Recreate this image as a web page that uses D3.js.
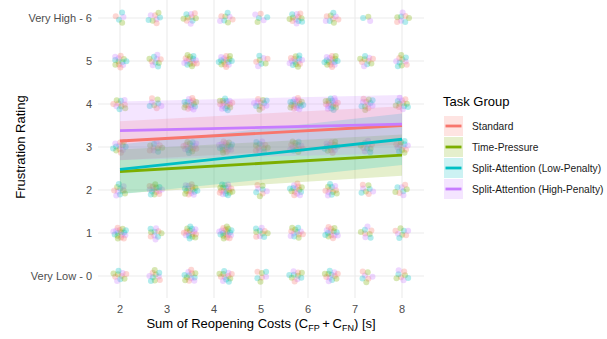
<!DOCTYPE html>
<html>
<head>
<meta charset="utf-8">
<script src="https://cdn.jsdelivr.net/npm/d3@7"></script>
<style>
  html, body { margin: 0; padding: 0; background: #fff; }
  svg { display: block; font-family: "Liberation Sans", Arial, sans-serif; }
</style>
</head>
<body>
<svg id="chart" width="607" height="339"></svg>
<script>
// ---- data ----
const groups = ["Standard", "Time-Pressure", "Split-Attention (Low-Penalty)", "Split-Attention (High-Penalty)"];
const groupColors = ["#F8766D", "#7CAE00", "#00BFC4", "#C77CFF"];

// reopening-cost levels (x) and rating levels (y)
const costLevels = [2, 2.75, 3.5, 4.25, 5, 5.75, 6.5, 7.25, 8];
const ratingLevels = [0, 1, 2, 3, 4, 5, 6];
const ratingLabels = ["Very Low - 0", "1", "2", "3", "4", "5", "Very High - 6"];
const xTicks = [2, 3, 4, 5, 6, 7, 8];

// number of responses per rating (rows) and cost level (columns)
const counts0 = [10, 10, 12, 12, 7, 10, 12, 7, 8];
const counts1 = [16, 10, 16, 18, 10, 12, 14, 8, 8];
const counts2 = [10, 14, 16, 18, 8, 14, 12, 8, 8];
const counts3 = [12, 10, 16, 18, 12, 14, 14, 10, 12];
const counts4 = [10, 8, 16, 16, 12, 18, 18, 12, 12];
const counts5 = [12, 10, 15, 15, 8, 14, 16, 10, 10];
const counts6 = [5, 8, 10, 8, 6, 12, 9, 3, 8];
const countRows = [counts0, counts1, counts2, counts3, counts4, counts5, counts6];

// fitted lines with confidence band, at cost = 2 and cost = 8
const fitStart  = [3.14, 2.43, 2.48, 3.38];
const fitEnd    = [3.50, 2.81, 3.18, 3.53];
const lowStart  = [2.69, 1.92, 1.90, 2.70];
const lowEnd    = [3.05, 2.33, 2.58, 2.85];
const highStart = [3.60, 2.94, 3.06, 4.06];
const highEnd   = [3.95, 3.29, 3.78, 4.21];

// ---- layout ----
const svg = d3.select("#chart");
const panel = { left: 98, right: 424, top: -12, bottom: 298 };

const x = d3.scaleLinear().domain([2, 8]).range([120, 402]);
const y = d3.scaleLinear().domain([0, 6]).range([276, 18]);

// grid
const grid = svg.append("g");
grid.selectAll("line.h").data(ratingLevels).join("line")
  .attr("x1", panel.left).attr("x2", panel.right)
  .attr("y1", d => y(d)).attr("y2", d => y(d))
  .attr("stroke", "#EBEBEB").attr("stroke-width", 1.1);
grid.selectAll("line.v").data(xTicks).join("line")
  .attr("y1", panel.top).attr("y2", panel.bottom)
  .attr("x1", d => x(d)).attr("x2", d => x(d))
  .attr("stroke", "#EBEBEB").attr("stroke-width", 1.1);

// jittered response points (deterministic spread around each cell)
const points = [];
const golden = Math.PI * (3 - Math.sqrt(5));
countRows.forEach((row, ri) => {
  row.forEach((n, ci) => {
    for (let i = 0; i < n; i++) {
      const r = 0.55 * Math.sqrt(i + 0.5) / Math.sqrt(Math.max(n, 6));
      const a = i * golden + ci * 1.3 + ri * 0.7;
      points.push({
        cost: costLevels[ci],
        rating: ratingLevels[ri],
        dx: Math.cos(a) * r * 0.28,
        dy: Math.sin(a) * r * 0.28,
        g: (i + ci + ri) % 4
      });
    }
  });
});

svg.append("g").selectAll("circle").data(points).join("circle")
  .attr("cx", d => x(d.cost + d.dx))
  .attr("cy", d => y(d.rating + d.dy))
  .attr("r", 3)
  .attr("fill", d => groupColors[d.g])
  .attr("fill-opacity", 0.3);

// fitted lines and bands
const fits = groups.map((g, i) => ({
  i,
  band: [
    { c: 2, lo: lowStart[i], hi: highStart[i] },
    { c: 8, lo: lowEnd[i], hi: highEnd[i] }
  ],
  line: [{ c: 2, v: fitStart[i] }, { c: 8, v: fitEnd[i] }]
}));

const area = d3.area().x(d => x(d.c)).y0(d => y(d.lo)).y1(d => y(d.hi));
const line = d3.line().x(d => x(d.c)).y(d => y(d.v));

const bandG = svg.append("g");
const lineG = svg.append("g");
fits.forEach(f => {
  bandG.append("path").attr("d", area(f.band))
    .attr("fill", groupColors[f.i]).attr("fill-opacity", 0.2);
  lineG.append("path").attr("d", line(f.line))
    .attr("stroke", groupColors[f.i]).attr("stroke-width", 2.8)
    .attr("fill", "none");
});

// axes labels
svg.append("g").selectAll("text").data(ratingLevels).join("text")
  .attr("x", 92).attr("y", d => y(d))
  .attr("dy", "0.36em").attr("text-anchor", "end")
  .attr("font-size", 11).attr("fill", "#4D4D4D")
  .text((d, i) => ratingLabels[i]);

svg.append("g").selectAll("text").data(xTicks).join("text")
  .attr("x", d => x(d)).attr("y", 313)
  .attr("text-anchor", "middle")
  .attr("font-size", 11).attr("fill", "#4D4D4D")
  .text(d => d);

const xt = svg.append("text")
  .attr("x", 261).attr("y", 328)
  .attr("text-anchor", "middle").attr("font-size", 13).attr("fill", "#000");
xt.append("tspan").text("Sum of Reopening Costs (C");
xt.append("tspan").attr("font-size", 9).attr("dy", 3).text("FP");
xt.append("tspan").attr("dy", -3).text("\u2009+\u2009C");
xt.append("tspan").attr("font-size", 9).attr("dy", 3).text("FN");
xt.append("tspan").attr("dy", -3).text(") [s]");

svg.append("text")
  .attr("transform", "translate(25,147) rotate(-90)")
  .attr("text-anchor", "middle").attr("font-size", 13).attr("fill", "#000")
  .text("Frustration Rating");

// legend
const legend = svg.append("g").attr("transform", "translate(443,0)");
legend.append("text").attr("x", 0).attr("y", 106)
  .attr("font-size", 13).attr("fill", "#000").text("Task Group");
const rows = legend.selectAll("g.key").data(groups).join("g")
  .attr("transform", (d, i) => `translate(0,${116 + i * 21})`);
rows.append("rect").attr("x", 1).attr("y", 0).attr("width", 19).attr("height", 20)
  .attr("fill", (d, i) => groupColors[i]).attr("fill-opacity", 0.2);
rows.append("line").attr("x1", 2.5).attr("x2", 18.5).attr("y1", 10).attr("y2", 10)
  .attr("stroke", (d, i) => groupColors[i]).attr("stroke-width", 2.8);
rows.append("text").attr("x", 29).attr("y", 10).attr("dy", "0.36em")
  .attr("font-size", 10.2).attr("fill", "#1A1A1A").text(d => d);
</script>
</body>
</html>
